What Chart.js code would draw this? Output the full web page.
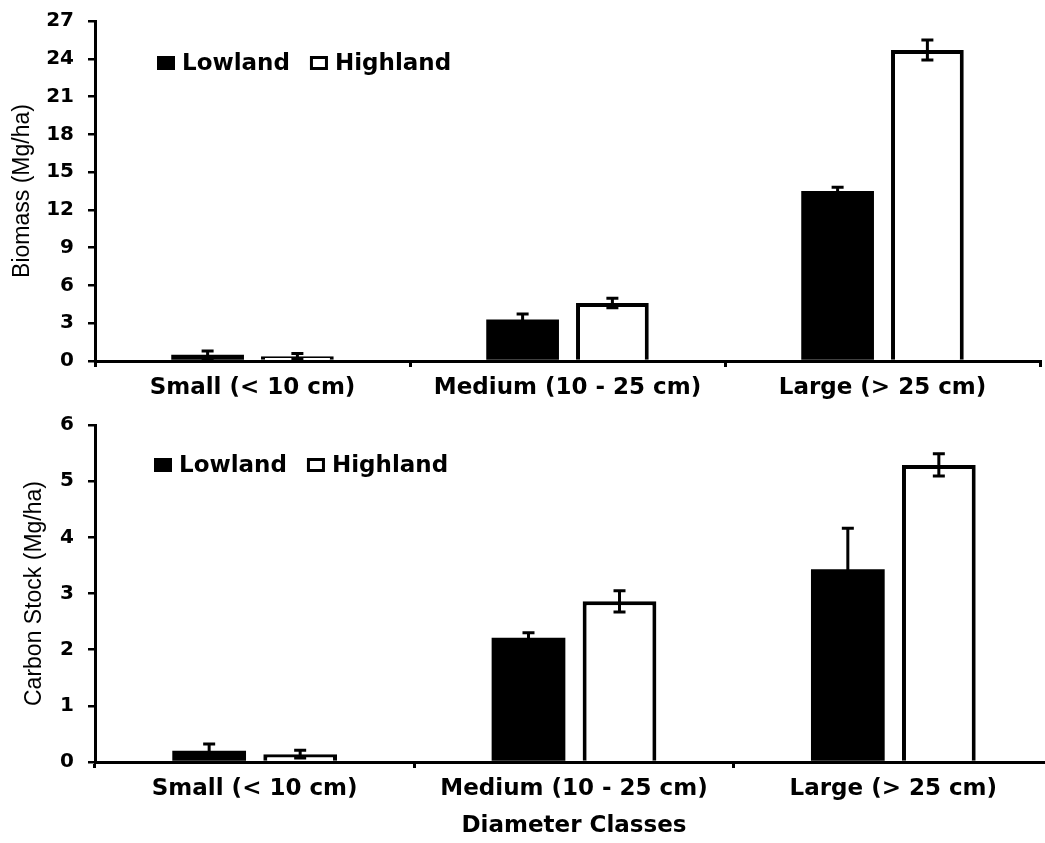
<!DOCTYPE html>
<html>
<head>
<meta charset="utf-8">
<script src="https://cdn.jsdelivr.net/npm/chart.js@4.4.1/dist/chart.umd.min.js"></script>
<style>
  html, body { margin: 0; padding: 0; background: #fff; overflow: hidden; width: 1045px; height: 843px; }
  #wrapTop { position: absolute; left: 0; top: 0; width: 1045px; height: 400px; }
  #wrapBot { position: absolute; left: 0; top: 400px; width: 1060px; height: 443px; }
</style>
</head>
<body>
<div id="wrapTop"><canvas id="cTop"></canvas></div>
<div id="wrapBot"><canvas id="cBot"></canvas></div>
<script>
// ---- Data ----
const categories = ['Small (< 10 cm)', 'Medium (10 - 25 cm)', 'Large (> 25 cm)'];
const seriesNames = ['Lowland', 'Highland'];

const biomassLowland = [0.5, 3.3, 13.5];
const biomassLowlandErr = [0.3, 0.43, 0.3];
const biomassHighland = [0.38, 4.6, 24.7];
const biomassHighlandErr = [0.22, 0.38, 0.8];
const biomassTicks = [0, 3, 6, 9, 12, 15, 18, 21, 24, 27];

const carbonLowland = [0.2, 2.21, 3.43];
const carbonLowlandErr = [0.12, 0.09, 0.73];
const carbonHighland = [0.14, 2.86, 5.29];
const carbonHighlandErr = [0.07, 0.19, 0.2];
const carbonTicks = [0, 1, 2, 3, 4, 5, 6];

const biomassTitle = 'Biomass (Mg/ha)';
const carbonTitle = 'Carbon Stock (Mg/ha)';
const xTitle = 'Diameter Classes';

// ---- Plugins ----
const errorBarPlugin = {
  id: 'errorBars',
  afterDatasetsDraw(chart) {
    const ctx = chart.ctx;
    const y = chart.scales.y;
    ctx.save();
    ctx.strokeStyle = '#000';
    ctx.lineWidth = 3;
    chart.data.datasets.forEach((ds, i) => {
      const meta = chart.getDatasetMeta(i);
      meta.data.forEach((bar, j) => {
        const v = ds.data[j], e = ds.errors[j];
        const yt = y.getPixelForValue(v + e);
        const yb = y.getPixelForValue(Math.max(0, v - e));
        const x = bar.x;
        ctx.beginPath();
        ctx.moveTo(x, yt); ctx.lineTo(x, yb);
        ctx.moveTo(x - 6, yt); ctx.lineTo(x + 6, yt);
        ctx.moveTo(x - 6, yb); ctx.lineTo(x + 6, yb);
        ctx.stroke();
      });
    });
    ctx.restore();
  }
};

const legendPlugin = {
  id: 'innerLegend',
  afterDraw(chart, args, opts) {
    const ctx = chart.ctx;
    const a = chart.chartArea;
    const cy = a.top + opts.dy;
    let x = a.left + opts.dx;
    ctx.save();
    ctx.font = 'bold 23px "DejaVu Sans"';
    ctx.textBaseline = 'middle';
    ctx.textAlign = 'left';
    chart.data.datasets.forEach((ds, i) => {
      ctx.fillStyle = '#000';
      ctx.fillRect(x, cy - 7, 18, 14);
      if (ds.backgroundColor !== '#000') {
        ctx.fillStyle = '#fff';
        ctx.fillRect(x + 3, cy - 4, 12, 8);
      }
      ctx.fillStyle = '#000';
      ctx.fillText(ds.label, x + 25, cy + 1);
      x += 25 + ctx.measureText(ds.label).width + opts.gap;
    });
    ctx.restore();
  }
};

function makeDatasets(low, lowErr, high, highErr) {
  return [
    { label: seriesNames[0], data: low, errors: lowErr, backgroundColor: '#000', borderColor: '#000', borderWidth: 0,
      categoryPercentage: 0.57, barPercentage: 0.81 },
    { label: seriesNames[1], data: high, errors: highErr, backgroundColor: '#fff', borderColor: '#000', borderWidth: 4,
      categoryPercentage: 0.57, barPercentage: 0.81 }
  ];
}

function makeChart(id, cfg) {
  return new Chart(document.getElementById(id), {
    type: 'bar',
    data: { labels: categories, datasets: cfg.datasets },
    options: {
      responsive: true,
      maintainAspectRatio: false,
      animation: false,
      events: [],
      layout: { padding: { top: cfg.padTop, right: cfg.padRight, left: 0, bottom: 0 } },
      plugins: {
        legend: { display: false },
        tooltip: { enabled: false },
        innerLegend: cfg.legend
      },
      scales: {
        x: {
          grid: { display: true, drawOnChartArea: false, drawTicks: true, tickLength: 6, color: '#000', lineWidth: 3, offset: true },
          border: { display: true, color: '#000', width: 3 },
          ticks: { color: '#000', font: { family: 'DejaVu Sans', weight: 'bold', size: 23 }, padding: 7, maxRotation: 0 },
          title: cfg.xTitle ? { display: true, text: cfg.xTitle, color: '#000', font: { family: 'DejaVu Sans', weight: 'bold', size: 23 }, padding: { top: 0, bottom: 3 } } : { display: false },
          afterFit(s) { s.height = cfg.xHeight; }
        },
        y: {
          min: 0, max: cfg.ticks[cfg.ticks.length - 1],
          afterBuildTicks(s) { s.ticks = cfg.ticks.map(v => ({ value: v })); },
          grid: { display: true, drawOnChartArea: false, drawTicks: true, tickLength: 7, color: '#000', lineWidth: 2.5 },
          border: { display: true, color: '#000', width: 3 },
          ticks: { color: '#000', font: { family: 'DejaVu Sans', weight: 'bold', size: 20 }, padding: 14 },
          title: { display: true, text: cfg.yTitle, color: '#000', font: { family: 'Liberation Sans', size: 23 }, padding: { top: cfg.yTitlePad, bottom: 0 } },
          afterFit(s) { s.width = 95; s.paddingTop = 0; s.paddingBottom = 0; }
        }
      }
    },
    plugins: [errorBarPlugin, legendPlugin]
  });
}

makeChart('cTop', {
  datasets: makeDatasets(biomassLowland, biomassLowlandErr, biomassHighland, biomassHighlandErr),
  ticks: biomassTicks,
  yTitle: biomassTitle,
  yTitlePad: 9,
  padTop: 21, padRight: 5, xHeight: 39,
  legend: { dx: 62, dy: 42, gap: 20 }
});

makeChart('cBot', {
  datasets: makeDatasets(carbonLowland, carbonLowlandErr, carbonHighland, carbonHighlandErr),
  ticks: carbonTicks,
  yTitle: carbonTitle,
  yTitlePad: 21,
  padTop: 25, padRight: 7, xHeight: 81,
  xTitle: xTitle,
  legend: { dx: 59, dy: 40, gap: 20 }
});
</script>
</body>
</html>
